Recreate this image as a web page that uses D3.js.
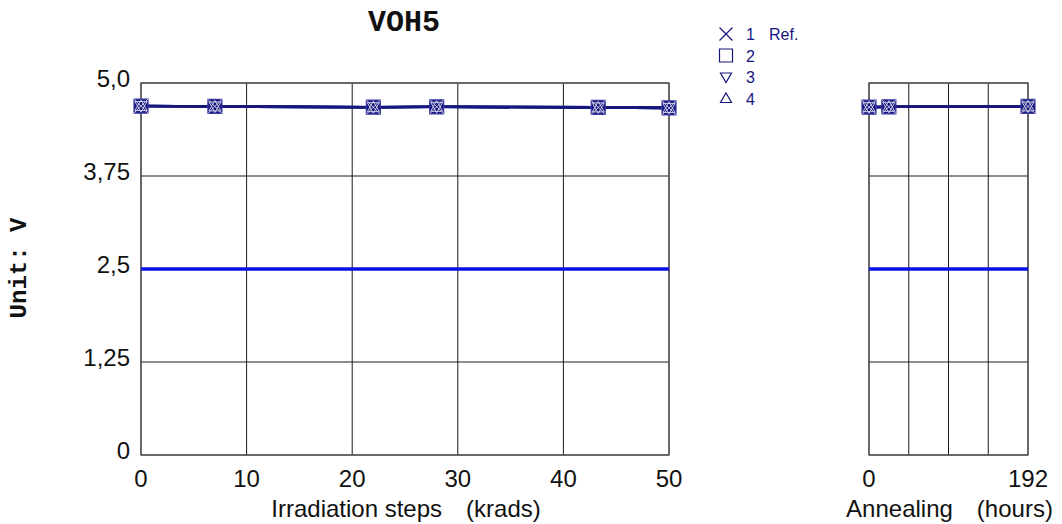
<!DOCTYPE html>
<html>
<head>
<meta charset="utf-8">
<script src="https://cdn.jsdelivr.net/npm/d3@7"></script>
<style>
  html, body { margin: 0; padding: 0; background: #fff; }
  svg { display: block; }
</style>
</head>
<body>
<svg id="chart" width="1062" height="524"></svg>
<script>
// Irradiation steps (krads) and annealing time (hours)
const irradSteps = [0, 7, 22, 28, 43.3, 50];
const annealSteps = [0, 24, 192];

// VOH5 readings (V) per device
const irradValues = {
  "1": [4.69, 4.685, 4.675, 4.68, 4.672, 4.665],
  "2": [4.69, 4.685, 4.675, 4.68, 4.672, 4.665],
  "3": [4.69, 4.685, 4.675, 4.68, 4.672, 4.665],
  "4": [4.69, 4.685, 4.675, 4.68, 4.672, 4.665]
};
const annealValues = {
  "1": [4.675, 4.68, 4.685],
  "2": [4.675, 4.68, 4.685],
  "3": [4.675, 4.68, 4.685],
  "4": [4.675, 4.68, 4.685]
};

const seriesNames = ["1", "2", "3", "4"];
const legendNumbers = ["1", "2", "3", "4"];
const refLabel = "Ref.";
const limitValue = 2.5;

const yTicks = [0, 1.25, 2.5, 3.75, 5.0];
const yTickLabels = ["0", "1,25", "2,5", "3,75", "5,0"];
const irradTicks = [0, 10, 20, 30, 40, 50];
const annealGrid = [0, 48, 96, 144, 192];
const annealTickLabels = [0, 192];

const navy = "#16167f";
const limitBlue = "#0a10e8";
const sans = "Liberation Sans, Arial, sans-serif";
const mono = "Liberation Mono, Courier New, monospace";
const fs = 24;

const svg = d3.select("#chart");

const y = d3.scaleLinear().domain([0, 5]).range([455, 83]);
const xIrr = d3.scaleLinear().domain([0, 50]).range([141, 669]);
const xAnn = d3.scaleLinear().domain([0, 192]).range([869, 1028]);

function markerPath(i, size) {
  const h = size / 2;
  if (i === 0) return `M${-h},${-h}L${h},${h}M${-h},${h}L${h},${-h}`;
  if (i === 1) return `M${-h},${-h}H${h}V${h}H${-h}Z`;
  if (i === 2) return `M${-h + 1},${-h + 2.5}H${h - 1}L0,${h - 1}Z`;
  return `M${-h + 1},${h - 2.5}H${h - 1}L0,${-h + 1}Z`;
}

function drawPanel(x, gridX, tickVals, steps, valuesBySeries, titleName, titleUnit) {
  const g = svg.append("g");
  const [x0, x1] = x.range();
  // grid
  g.selectAll(".vg").data(gridX).join("line")
    .attr("x1", d => x(d)).attr("x2", d => x(d))
    .attr("y1", y(5)).attr("y2", y(0))
    .attr("stroke", "#1a1a1a").attr("stroke-width", 1);
  g.selectAll(".hg").data(yTicks).join("line")
    .attr("x1", x0).attr("x2", x1)
    .attr("y1", d => y(d)).attr("y2", d => y(d))
    .attr("stroke", "#1a1a1a").attr("stroke-width", 1);
  // frame
  g.append("rect").attr("x", x0).attr("y", y(5))
    .attr("width", x1 - x0).attr("height", y(0) - y(5))
    .attr("fill", "none").attr("stroke", "#555").attr("stroke-width", 1.3);

  // x tick labels
  g.selectAll(".xt").data(tickVals).join("text")
    .attr("x", d => x(d)).attr("y", 487)
    .attr("text-anchor", "middle")
    .attr("font-family", sans).attr("font-size", fs).attr("fill", "#111")
    .text(d => d);

  // axis title: name, then unit
  const t = g.append("text").attr("x", (x0 + x1) / 2 + 1).attr("y", 517)
    .attr("text-anchor", "middle")
    .attr("font-family", sans).attr("font-size", fs).attr("fill", "#111");
  t.append("tspan").text(titleName);
  t.append("tspan").attr("dx", 24).text(titleUnit);

  // limit line
  g.append("line").attr("x1", x0).attr("x2", x1)
    .attr("y1", y(limitValue)).attr("y2", y(limitValue))
    .attr("stroke", limitBlue).attr("stroke-width", 3.5);

  // series lines
  const line = d3.line().x((d, i) => x(steps[i])).y(d => y(d));
  seriesNames.forEach(s => {
    g.append("path").datum(valuesBySeries[s])
      .attr("d", line).attr("fill", "none")
      .attr("stroke", navy).attr("stroke-width", 2.6);
  });
  // markers: square drawn filled, the others as light strokes over it
  [1, 0, 2, 3].forEach(si => {
    const s = seriesNames[si];
    g.selectAll(".m" + si).data(valuesBySeries[s]).join("path")
      .attr("transform", (d, i) => `translate(${x(steps[i])},${y(d)})`)
      .attr("d", markerPath(si, 14))
      .attr("fill", si === 1 ? navy : "none")
      .attr("stroke", si === 1 ? "#3a3aa0" : "#dcdcf0")
      .attr("stroke-width", si === 1 ? 1.2 : 0.9);
  });
}

drawPanel(xIrr, irradTicks, irradTicks, irradSteps, irradValues,
  "Irradiation steps", "(krads)");
drawPanel(xAnn, annealGrid, annealTickLabels, annealSteps, annealValues,
  "Annealing", "(hours)");

// y tick labels
svg.selectAll(".yt").data(yTicks).join("text")
  .attr("x", 130).attr("y", d => y(d) + 4)
  .attr("text-anchor", "end")
  .attr("font-family", sans).attr("font-size", fs).attr("fill", "#111")
  .text((d, i) => yTickLabels[i]);

// title
svg.append("text").attr("x", 404).attr("y", 31)
  .attr("text-anchor", "middle")
  .attr("font-family", mono)
  .attr("font-weight", "bold").attr("font-size", 30).attr("fill", "#111")
  .text("VOH5");

// y axis title
svg.append("text")
  .attr("transform", "translate(26,268) rotate(-90)")
  .attr("text-anchor", "middle")
  .attr("font-family", mono)
  .attr("font-weight", "bold").attr("font-size", 24).attr("fill", "#111")
  .text("Unit: V");

// legend
const legend = svg.append("g");
const legendY = [34, 55.5, 77, 98.5];
legendNumbers.forEach((lab, i) => {
  const cy = legendY[i];
  legend.append("path")
    .attr("transform", `translate(726,${cy})`)
    .attr("d", markerPath(i, 13))
    .attr("fill", "none").attr("stroke", navy).attr("stroke-width", 1.2);
  legend.append("text").attr("x", 746).attr("y", cy + 6)
    .attr("font-family", sans)
    .attr("font-size", 16).attr("fill", navy)
    .text(lab);
});
legend.append("text").attr("x", 769).attr("y", legendY[0] + 6)
  .attr("font-family", sans).attr("font-size", 16).attr("fill", navy)
  .text(refLabel);
</script>
</body>
</html>
